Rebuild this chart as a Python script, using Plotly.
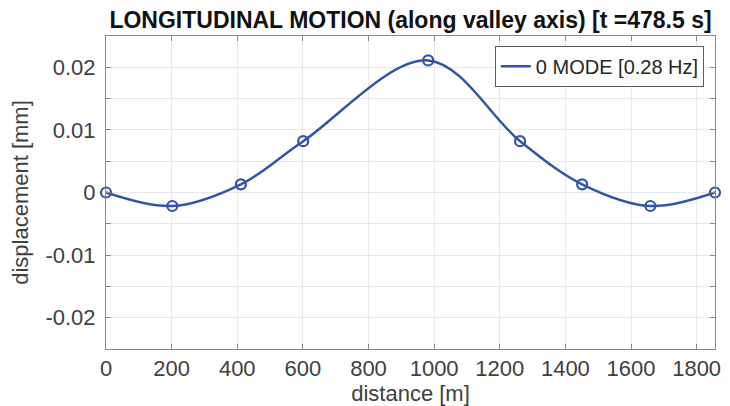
import plotly.graph_objects as go

# 观测点位置 (m) 和位移 (mm)
distance = [0, 202, 411, 601, 982, 1262, 1451, 1659, 1856]
displacement = [0.0, -0.00216, 0.0013, 0.0082, 0.0211, 0.0082, 0.0013, -0.00216, 0.0]

y_ticks = [-0.025, -0.02, -0.015, -0.01, -0.005, 0, 0.005, 0.01, 0.015, 0.02, 0.025]
y_labels = ["", "-0.02", "", "-0.01", "", "0", "", "0.01", "", "0.02", ""]
x_ticks = [0, 200, 400, 600, 800, 1000, 1200, 1400, 1600, 1800]

line_color = "#3155a6"
axis_color = "#8a8a8a"
font = "Liberation Sans, Arial, sans-serif"

fig = go.Figure()
fig.add_trace(go.Scatter(
    x=distance, y=displacement,
    mode="lines", line=dict(color=line_color, width=2.5, shape="spline", smoothing=1.0),
    name="0 MODE [0.28 Hz]",
))
fig.add_trace(go.Scatter(
    x=distance, y=displacement,
    mode="markers",
    marker=dict(symbol="circle-open", size=10, color=line_color, line=dict(width=2.2)),
    showlegend=False, cliponaxis=False,
))

# 页面 body 自带 8px 边距, 所以尺寸比窗口小 8px
fig.update_layout(
    width=722, height=398,
    margin=dict(l=98, r=9, t=28, b=53),
    paper_bgcolor="white", plot_bgcolor="white",
    font=dict(family=font, size=22, color="#404040"),
    title=dict(
        text="<b>LONGITUDINAL MOTION (along valley axis) [t =478.5 s]</b>",
        x=0.5, xref="paper", xanchor="center", y=0.969, yanchor="middle",
        font=dict(size=23, color="#111111"),
    ),
    legend=dict(
        x=0.982, y=0.968, xanchor="right", yanchor="top",
        bgcolor="white", bordercolor="#333333", borderwidth=0.8,
        font=dict(size=20, color="#262626"),
    ),
    showlegend=True,
)
fig.update_xaxes(
    range=[0, 1856], tickvals=x_ticks,
    showgrid=True, gridcolor="#e8e8e8", gridwidth=1,
    showline=True, linecolor=axis_color, linewidth=1, mirror="ticks",
    ticks="inside", ticklen=5, tickcolor=axis_color,
    zeroline=False,
    title=dict(text="distance [m]", standoff=0, font=dict(size=22, color="#404040")),
)
fig.update_yaxes(
    range=[-0.025, 0.025], tickvals=y_ticks, ticktext=y_labels,
    showgrid=True, gridcolor="#e8e8e8", gridwidth=1,
    showline=True, linecolor=axis_color, linewidth=1, mirror="ticks",
    ticks="inside", ticklen=5, tickcolor=axis_color, ticklabelstandoff=5,
    zeroline=False,
    title=dict(text="displacement [mm]", standoff=12, font=dict(size=22, color="#404040")),
)

fig.write_html("out.html")
